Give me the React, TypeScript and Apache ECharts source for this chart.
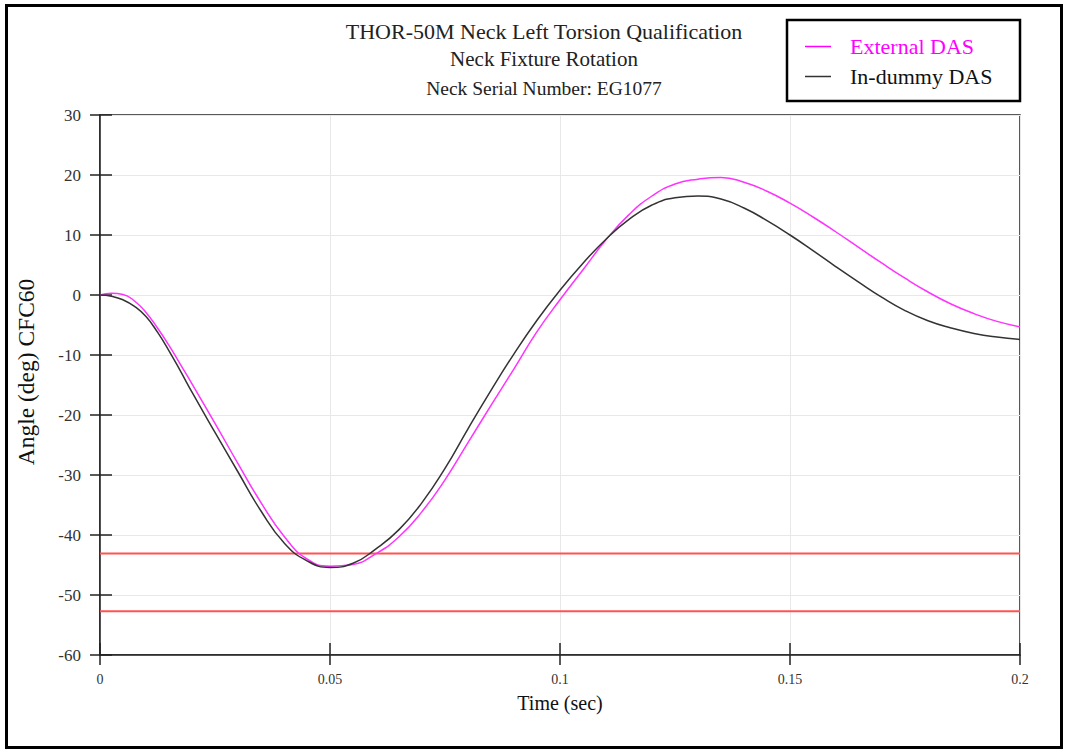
import React, { useEffect, useRef } from "react";
import * as echarts from "echarts";

const timeSec = [
  0, 0.0025, 0.005, 0.0075, 0.01, 0.0125, 0.015, 0.0175, 0.02, 0.025, 0.03, 0.035, 0.04, 0.045,
  0.05, 0.055, 0.06, 0.065, 0.07, 0.075, 0.08, 0.085, 0.09, 0.095,
  0.1, 0.105, 0.11, 0.115, 0.12, 0.125, 0.13, 0.135, 0.14, 0.145,
  0.15, 0.155, 0.16, 0.165, 0.17, 0.175, 0.18, 0.185, 0.19, 0.195, 0.2,
];
const externalDAS = [
  0, 0.3, 0.1, -1.0, -2.9, -5.5, -8.4, -11.6, -14.8, -21.4, -28.1, -34.6, -40.2, -44.0,
  -45.2, -44.9, -43.1, -40.3, -36.1, -30.8, -24.6, -18.4, -12.3, -6.1,
  -0.8, 4.2, 9.2, 13.4, 16.5, 18.5, 19.3, 19.6, 18.8, 17.3,
  15.3, 13.0, 10.5, 7.9, 5.3, 2.8, 0.5, -1.5, -3.1, -4.4, -5.3,
];
const inDummyDAS = [
  0, -0.2, -0.8, -1.9, -3.6, -6.2, -9.3, -12.7, -16.2, -22.9, -29.5, -36.0, -41.3, -44.3,
  -45.4, -44.7, -42.3, -39.1, -34.6, -28.9, -22.3, -15.9, -9.8, -4.2,
  0.8, 5.3, 9.3, 12.6, 15.0, 16.2, 16.5, 16.0, 14.5, 12.4,
  10.0, 7.4, 4.7, 2.1, -0.4, -2.6, -4.3, -5.5, -6.4, -7.0, -7.4,
];
const corridorLimits = [-43.1, -52.7];
const xRange = [0, 0.2];
const yRange = [-60, 30];
const titleLines = [
  "THOR-50M Neck Left Torsion Qualification",
  "Neck Fixture Rotation",
  "Neck Serial Number: EG1077",
];
const seriesNames = ["External DAS", "In-dummy DAS"];

const FONT = "'Liberation Serif', 'Times New Roman', serif";

export default function App() {
  const ref = useRef<HTMLDivElement>(null);
  useEffect(() => {
    if (!ref.current) return;
    const chart = echarts.init(ref.current, null, { renderer: "svg" });
    const ext = timeSec.map((t, i) => [t, externalDAS[i]]);
    const dum = timeSec.map((t, i) => [t, inDummyDAS[i]]);
    const limitSeries = corridorLimits.map((v, i) => ({
      name: "limit" + i,
      type: "line",
      data: [
        [xRange[0], v],
        [xRange[1], v],
      ],
      showSymbol: false,
      lineStyle: { color: "#ff5252", width: 2 },
      z: 3,
    }));
    const tickStyle = { color: "#222", width: 1.5 };
    chart.setOption({
      animation: false,
      backgroundColor: "#fff",
      title: [
        {
          text: titleLines[0],
          left: 544,
          top: 20,
          textAlign: "center",
          padding: 0,
          textStyle: { fontFamily: FONT, fontSize: 22, fontWeight: "normal", color: "#222" },
        },
        {
          text: titleLines[1],
          left: 544,
          top: 48.5,
          textAlign: "center",
          padding: 0,
          textStyle: { fontFamily: FONT, fontSize: 21, fontWeight: "normal", color: "#222" },
        },
        {
          text: titleLines[2],
          left: 544,
          top: 78.5,
          textAlign: "center",
          padding: 0,
          textStyle: { fontFamily: FONT, fontSize: 19.5, fontWeight: "normal", color: "#222" },
        },
      ],
      legend: {
        orient: "vertical",
        left: 805,
        top: 35.5,
        padding: 0,
        itemWidth: 26,
        itemHeight: 1.5,
        itemGap: 8,
        icon: "rect",
        data: [
          { name: seriesNames[0], textStyle: { color: "#ff00ff" } },
          { name: seriesNames[1], textStyle: { color: "#111" } },
        ],
        textStyle: {
          fontFamily: FONT,
          fontSize: 22,
          lineHeight: 22,
          padding: [0, 0, 0, 14],
        },
      },
      graphic: [
        {
          type: "rect",
          shape: { x: 787, y: 20, width: 233, height: 81 },
          style: { fill: "none", stroke: "#000", lineWidth: 2.5 },
          z: 10,
        },
        {
          type: "rect",
          shape: { x: 6.5, y: 5.5, width: 1055, height: 742 },
          style: { fill: "none", stroke: "#000", lineWidth: 3 },
          z: 10,
        },
      ],
      grid: {
        left: 100,
        right: 45,
        top: 115,
        bottom: 95,
        show: true,
        borderColor: "#222",
        borderWidth: 1.5,
      },
      xAxis: [
        {
          type: "value",
          min: xRange[0],
          max: xRange[1],
          interval: 0.05,
          name: "Time (sec)",
          nameLocation: "middle",
          nameGap: 38,
          nameTextStyle: { fontFamily: FONT, fontSize: 20, color: "#111" },
          axisLine: { show: true, onZero: false, lineStyle: { color: "#222", width: 1.5 } },
          axisTick: { show: true, length: 10, lineStyle: tickStyle },
          axisLabel: { fontFamily: FONT, fontSize: 14, color: "#333", margin: 17 },
          splitLine: { show: true, lineStyle: { color: "#e8e8e8", width: 1 } },
        },
        {
          type: "value",
          min: xRange[0],
          max: xRange[1],
          interval: 0.05,
          position: "top",
          offset: -540,
          axisLine: { show: false, onZero: false },
          axisTick: { show: true, inside: false, length: 12, lineStyle: tickStyle },
          axisLabel: { show: false },
          splitLine: { show: false },
        },
      ],
      yAxis: [
        {
          type: "value",
          min: yRange[0],
          max: yRange[1],
          interval: 10,
          name: "Angle (deg) CFC60",
          nameLocation: "middle",
          nameGap: 62,
          nameTextStyle: {
            fontFamily: FONT,
            fontSize: 23.5,
            color: "#111",
            padding: [0, 0, 0, 26],
          },
          axisLine: { show: true, onZero: false, lineStyle: { color: "#222", width: 1.5 } },
          axisTick: { show: true, length: 10, lineStyle: tickStyle },
          axisLabel: { fontFamily: FONT, fontSize: 17, color: "#333", margin: 19 },
          splitLine: { show: true, lineStyle: { color: "#e8e8e8", width: 1 } },
        },
        {
          type: "value",
          min: yRange[0],
          max: yRange[1],
          interval: 10,
          position: "right",
          offset: -920,
          axisLine: { show: false, onZero: false },
          axisTick: { show: true, inside: false, length: 12, lineStyle: tickStyle },
          axisLabel: { show: false },
          splitLine: { show: false },
        },
      ],
      series: [
        ...limitSeries,
        {
          name: seriesNames[0],
          type: "line",
          data: ext,
          smooth: true,
          showSymbol: false,
          color: "#ff00ff",
          lineStyle: { color: "#ff33ff", width: 1.5 },
          z: 4,
        },
        {
          name: seriesNames[1],
          type: "line",
          data: dum,
          smooth: true,
          showSymbol: false,
          color: "#333",
          lineStyle: { color: "#333", width: 1.5 },
          z: 5,
        },
      ],
    });
    return () => chart.dispose();
  }, []);
  return (
    <div
      ref={ref}
      style={{ position: "fixed", left: 0, top: 0, width: 1065, height: 750 }}
    />
  );
}
